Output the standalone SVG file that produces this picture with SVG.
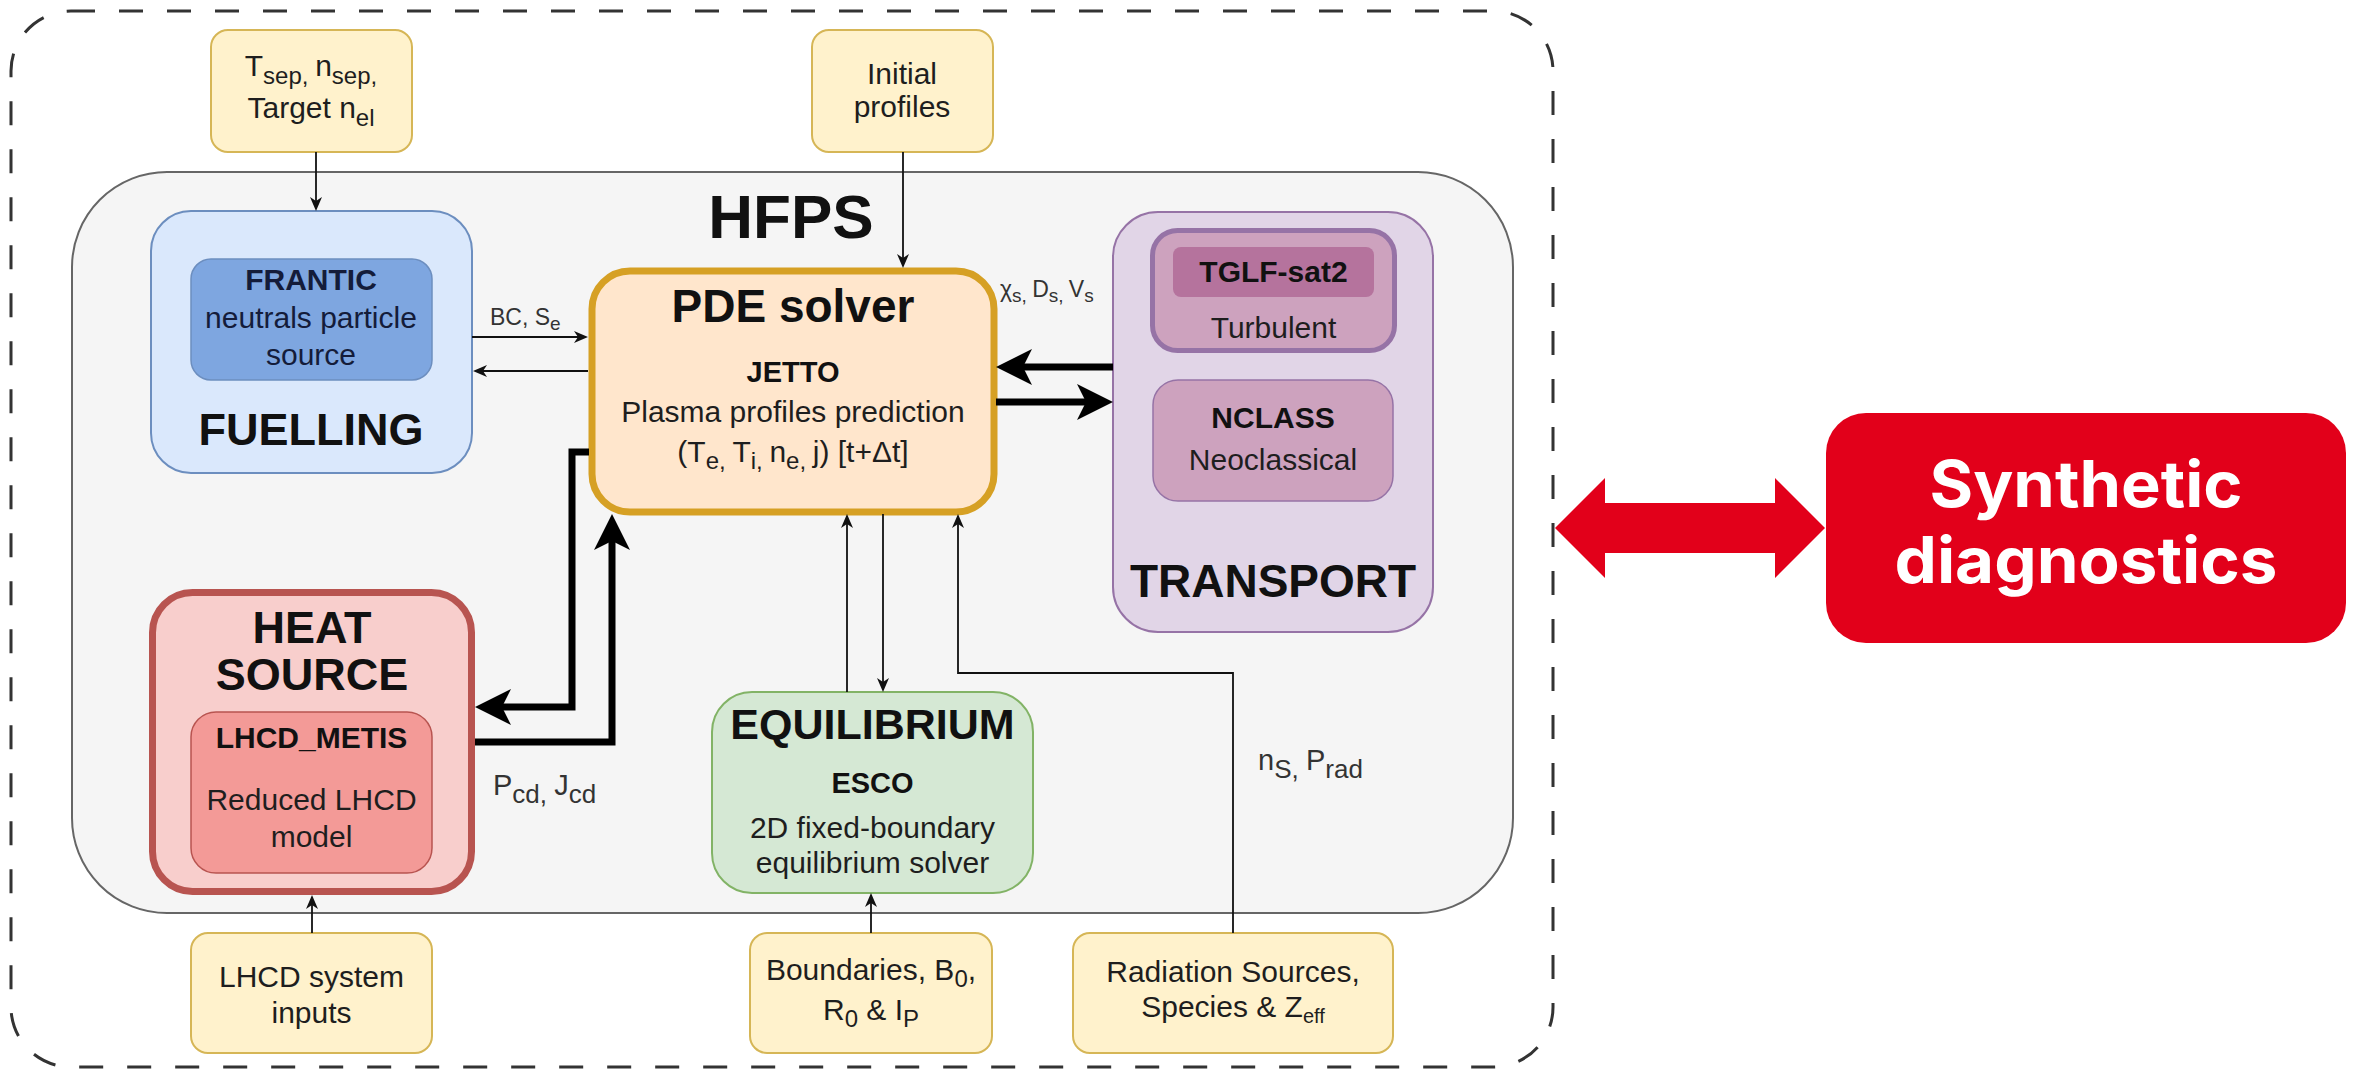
<svg xmlns="http://www.w3.org/2000/svg" width="2364" height="1072" viewBox="0 0 2364 1072">
<style>
text{font-family:"Liberation Sans",Arial,Helvetica,sans-serif;fill:#1e1e1e}
.body{font-size:30px}
.sub{font-size:24px}
.title{font-size:45px;font-weight:bold;fill:#111}
.mid{font-size:29px;font-weight:bold;fill:#111}
.lbl{font-size:23px;fill:#333}
.lsub{font-size:19px;fill:#333}
.big{font-size:29px;fill:#333}
.bsub{font-size:26px;fill:#333}
.inp{fill:#fff2cc;stroke:#d6b656;stroke-width:2}
.thin{fill:none;stroke:#111;stroke-width:1.8}
.thick{fill:none;stroke:#000;stroke-width:7;stroke-linejoin:miter}
</style>
<defs>
<marker id="ah" viewBox="0 0 14 12" refX="4" refY="6" markerWidth="14" markerHeight="12" orient="auto" markerUnits="userSpaceOnUse"><path d="M0,0 L14,6 L0,12 L4,6 z" fill="#111"/></marker>
<marker id="ahT" viewBox="0 0 36 36" refX="9" refY="18" markerWidth="36" markerHeight="36" orient="auto" markerUnits="userSpaceOnUse"><path d="M0,0 L36,18 L0,36 L9,18 z" fill="#000"/></marker>
</defs>
<rect width="2364" height="1072" fill="#fff"/>
<g id="outer-frame"><rect x="11" y="11" width="1542" height="1056" rx="60" fill="none" stroke="#333" stroke-width="3" stroke-dasharray="24 24"/></g>
<g id="hfps"><rect x="72" y="172" width="1441" height="741" rx="95" fill="#f5f5f5" stroke="#666" stroke-width="2"/>
<text x="791" y="238" text-anchor="middle" style="font-size:62px;font-weight:bold;fill:#111">HFPS</text></g>

<g id="input-sep"><rect class="inp" x="211" y="30" width="201" height="122" rx="17"/>
<text class="body" x="311" y="76" text-anchor="middle">T<tspan class="sub" dy="8">sep, </tspan><tspan dy="-8">n</tspan><tspan class="sub" dy="8">sep,</tspan></text>
<text class="body" x="311" y="118" text-anchor="middle">Target n<tspan class="sub" dy="8">el</tspan></text></g>

<g id="input-initial"><rect class="inp" x="812" y="30" width="181" height="122" rx="17"/>
<text class="body" x="902" y="84" text-anchor="middle">Initial</text>
<text class="body" x="902" y="117" text-anchor="middle">profiles</text></g>

<g id="fuelling"><rect x="151" y="211" width="321" height="262" rx="40" fill="#dae8fc" stroke="#6c8ebf" stroke-width="2"/>
<rect x="191" y="259" width="241" height="121" rx="20" fill="#7ea6e0" stroke="#6c8ebf" stroke-width="1.5"/>
<text x="311" y="290" text-anchor="middle" style="font-size:30px;font-weight:bold;fill:#141c3a">FRANTIC</text>
<text class="body" x="311" y="328" text-anchor="middle" style="fill:#141c3a">neutrals particle</text>
<text class="body" x="311" y="365" text-anchor="middle" style="fill:#141c3a">source</text>
<text class="title" x="311" y="445" text-anchor="middle">FUELLING</text></g>

<g id="pde"><rect x="592" y="271" width="402" height="241" rx="38" fill="#ffe6cc" stroke="#d6a024" stroke-width="7"/>
<text x="793" y="322" text-anchor="middle" style="font-size:46px;font-weight:bold;fill:#111">PDE solver</text>
<text class="mid" x="793" y="382" text-anchor="middle">JETTO</text>
<text class="body" x="793" y="422" text-anchor="middle">Plasma profiles prediction</text>
<text class="body" x="793" y="462" text-anchor="middle">(T<tspan class="sub" dy="7">e, </tspan><tspan dy="-7">T</tspan><tspan class="sub" dy="7">i, </tspan><tspan dy="-7">n</tspan><tspan class="sub" dy="7">e, </tspan><tspan dy="-7">j) [t+Δt]</tspan></text></g>

<g id="transport"><rect x="1113" y="212" width="320" height="420" rx="45" fill="#e1d5e7" stroke="#9673a6" stroke-width="2"/>
<rect x="1152.5" y="230.5" width="242" height="120" rx="25" fill="#cda2be" stroke="#9673a6" stroke-width="5"/>
<rect x="1173" y="247" width="201" height="50" rx="8" fill="#b5739d"/>
<text class="mid" x="1273.5" y="282" text-anchor="middle" style="font-size:30px">TGLF-sat2</text>
<text class="body" x="1273.5" y="338" text-anchor="middle">Turbulent</text>
<rect x="1153" y="380" width="240" height="121" rx="25" fill="#cda2be" stroke="#9673a6" stroke-width="1.5"/>
<text class="mid" x="1273" y="428" text-anchor="middle" style="font-size:30px">NCLASS</text>
<text class="body" x="1273" y="470" text-anchor="middle">Neoclassical</text>
<text class="title" x="1273" y="597" text-anchor="middle" style="font-size:46px">TRANSPORT</text></g>

<g id="heat-source"><rect x="152.5" y="592.5" width="319" height="299" rx="40" fill="#f8cecc" stroke="#b85450" stroke-width="7"/>
<text class="title" x="312" y="643" text-anchor="middle">HEAT</text>
<text class="title" x="312" y="690" text-anchor="middle">SOURCE</text>
<rect x="191" y="712" width="241" height="161" rx="25" fill="#f39a97" stroke="#b85450" stroke-width="1.5"/>
<text class="mid" x="311.5" y="748" text-anchor="middle" style="font-size:30px">LHCD_METIS</text>
<text class="body" x="311.5" y="810" text-anchor="middle">Reduced LHCD</text>
<text class="body" x="311.5" y="847" text-anchor="middle">model</text></g>

<g id="equilibrium"><rect x="712" y="692" width="321" height="201" rx="40" fill="#d5e8d4" stroke="#82b366" stroke-width="2"/>
<text class="title" x="872.5" y="739" text-anchor="middle" style="font-size:43px">EQUILIBRIUM</text>
<text class="mid" x="872.5" y="793" text-anchor="middle">ESCO</text>
<text class="body" x="872.5" y="838" text-anchor="middle">2D fixed-boundary</text>
<text class="body" x="872.5" y="873" text-anchor="middle">equilibrium solver</text></g>

<g id="input-lhcd"><rect class="inp" x="191" y="933" width="241" height="120" rx="17"/>
<text class="body" x="311.5" y="987" text-anchor="middle">LHCD system</text>
<text class="body" x="311.5" y="1023" text-anchor="middle">inputs</text></g>

<g id="input-boundaries"><rect class="inp" x="750" y="933" width="242" height="120" rx="17"/>
<text class="body" x="871" y="980" text-anchor="middle">Boundaries, B<tspan class="sub" dy="7">0</tspan><tspan dy="-7">,</tspan></text>
<text class="body" x="871" y="1020" text-anchor="middle">R<tspan class="sub" dy="7">0</tspan><tspan dy="-7"> &amp; I</tspan><tspan class="sub" dy="7">P</tspan></text></g>

<g id="input-radiation"><rect class="inp" x="1073" y="933" width="320" height="120" rx="17"/>
<text class="body" x="1233" y="982" text-anchor="middle">Radiation Sources,</text>
<text class="body" x="1233" y="1017" text-anchor="middle">Species &amp; Z<tspan style="font-size:20px" dy="6">eff</tspan></text></g>

<g id="connectors">
<path class="thin" d="M316,152 V201" marker-end="url(#ah)"/>
<path class="thin" d="M903,152 V258" marker-end="url(#ah)"/>
<path class="thin" d="M472,337 H578" marker-end="url(#ah)"/>
<path class="thin" d="M588,371 H483" marker-end="url(#ah)"/>
<path class="thick" d="M1113,367 H1023" marker-end="url(#ahT)"/>
<path class="thick" d="M996,402 H1086" marker-end="url(#ahT)"/>
<path class="thick" d="M589,452 H572 V707 H502" marker-end="url(#ahT)"/>
<path class="thick" d="M475,742 H612 V541" marker-end="url(#ahT)"/>
<path class="thin" d="M847,692 V524" marker-end="url(#ah)"/>
<path class="thin" d="M883,514 V682" marker-end="url(#ah)"/>
<path class="thin" d="M1233,933 V673 H958 V524" marker-end="url(#ah)"/>
<path class="thin" d="M312,933 V905" marker-end="url(#ah)"/>
<path class="thin" d="M871,933 V903" marker-end="url(#ah)"/>
<text class="lbl" x="490" y="325">BC, S<tspan class="lsub" dy="5">e</tspan></text>
<text class="lbl" x="1000" y="297">χ<tspan class="lsub" dy="5">s, </tspan><tspan dy="-5">D</tspan><tspan class="lsub" dy="5">s, </tspan><tspan dy="-5">V</tspan><tspan class="lsub" dy="5">s</tspan></text>
<text class="big" x="493" y="795">P<tspan class="bsub" dy="8">cd, </tspan><tspan dy="-8">J</tspan><tspan class="bsub" dy="8">cd</tspan></text>
<text class="big" x="1258" y="770">n<tspan class="bsub" dy="8">S, </tspan><tspan dy="-8">P</tspan><tspan class="bsub" dy="8">rad</tspan></text>
</g>

<g id="double-arrow"><polygon points="1555,528 1605,478 1605,503 1775,503 1775,478 1825,528 1775,578 1775,553 1605,553 1605,578" fill="#e2001a"/></g>
<g id="synthetic-diagnostics"><rect x="1826" y="413" width="520" height="230" rx="40" fill="#e2001a"/>
<text x="2086" y="507" text-anchor="middle" textLength="313" lengthAdjust="spacingAndGlyphs" style="font-family:Inter,'Noto Sans',sans-serif;font-size:64px;font-weight:bold;fill:#fff">Synthetic</text>
<text x="2086" y="583" text-anchor="middle" textLength="383" lengthAdjust="spacingAndGlyphs" style="font-family:Inter,'Noto Sans',sans-serif;font-size:64px;font-weight:bold;fill:#fff">diagnostics</text></g>
</svg>
